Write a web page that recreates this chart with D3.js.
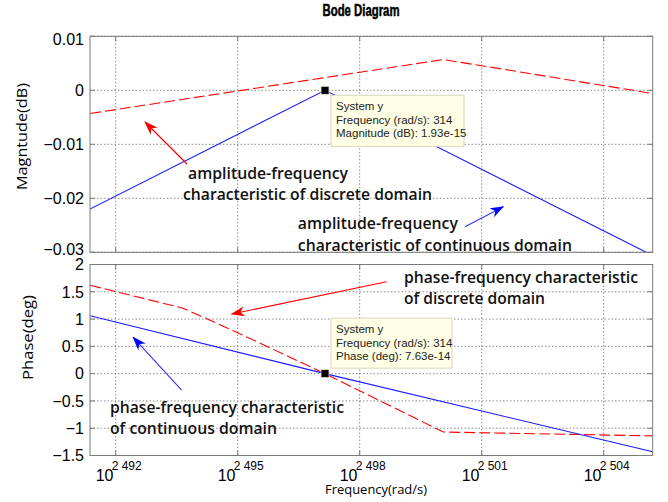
<!DOCTYPE html>
<html lang="en">
<head>
    <meta charset="UTF-8">
    <title>Bode Diagram</title>
    <script src="https://d3js.org/d3.v7.min.js"></script>
    <style>
        body { margin: 0; background: #fff; }
        svg { display: block; }
    </style>
</head>
<body>
    <div id="chart"></div>
    <script>
        // frequency axis is log10(rad/s)
        const xTicks = [2492, 2495, 2498, 2501, 2504];
        const magTicks = [0.01, 0, -0.01, -0.02, -0.03];
        const phaseTicks = [2, 1.5, 1, 0.5, 0, -0.5, -1, -1.5];

        const magContExp = [2491.368, 2497.147, 2505.205];
        const magContDb = [-0.022, 0, -0.0306];
        const magDiscExp = [2491.368, 2500.056, 2505.205];
        const magDiscDb = [-0.0043, 0.0057, -0.0006];

        const phContExp = [2491.368, 2497.147, 2505.205];
        const phContDeg = [1.06, 0, -1.43];
        const phDiscExp = [2491.368, 2493.655, 2495.0, 2497.147, 2500.056, 2505.205];
        const phDiscDeg = [1.62, 1.20, 0.75, 0, -1.07, -1.14];

        const markerExp = 2497.147;
        const magTip = ["System y", "Frequency (rad/s): 314", "Magnitude (dB): 1.93e-15"];
        const phaseTip = ["System y", "Frequency (rad/s): 314", "Phase (deg): 7.63e-14"];

        const width = 668;
        const height = 502;
        const left = 90, right = 652.7;

        const x = d3.scaleLinear().domain([2491.368, 2505.205]).range([left, right]);
        const yMag = d3.scaleLinear().domain([-0.03, 0.01]).range([252.3, 36.3]);
        const yPh = d3.scaleLinear().domain([-1.5, 2]).range([455.5, 264.5]);

        const svg = d3.select("#chart").append("svg")
            .attr("width", width)
            .attr("height", height)
            .attr("viewBox", [0, 0, width, height]);

        const defs = svg.append("defs");
        ["red", "blue"].forEach(c => {
            defs.append("marker")
                .attr("id", "arrow-" + c)
                .attr("markerUnits", "userSpaceOnUse")
                .attr("viewBox", "0 0 14 10")
                .attr("refX", 13).attr("refY", 5)
                .attr("markerWidth", 14).attr("markerHeight", 10)
                .attr("orient", "auto")
                .append("path")
                .attr("d", "M0,0 L14,5 L0,10 L4,5 Z")
                .attr("fill", c === "red" ? "#ff0000" : "#0000ff");
        });

        const expFmt = d3.formatLocale({decimal: ".", thousands: " ", grouping: [3], currency: ["", ""]}).format(",d");

        function panel(y, ticks, id, nudge) {
            const g = svg.append("g");
            const top = y.range()[1], bottom = y.range()[0];

            defs.append("clipPath").attr("id", id)
                .append("rect").attr("x", left).attr("y", top)
                .attr("width", right - left).attr("height", bottom - top);

            g.append("rect")
                .attr("x", left).attr("y", top)
                .attr("width", right - left).attr("height", bottom - top)
                .attr("fill", "#fff");

            // grid
            g.append("g").selectAll("line").data(xTicks).join("line")
                .attr("x1", d => x(d)).attr("x2", d => x(d))
                .attr("y1", top).attr("y2", bottom)
                .attr("stroke", "#8c8c8c").attr("stroke-dasharray", "1.5,2");
            g.append("g").selectAll("line").data(ticks).join("line")
                .attr("x1", left).attr("x2", right)
                .attr("y1", d => y(d)).attr("y2", d => y(d))
                .attr("stroke", "#8c8c8c").attr("stroke-dasharray", "1.5,2");

            // inside ticks
            const tk = g.append("g").attr("stroke", "#777");
            tk.append("g").selectAll("line").data(ticks).join("line")
                .attr("x1", left).attr("x2", left + 5)
                .attr("y1", d => y(d)).attr("y2", d => y(d));
            tk.append("g").selectAll("line").data(ticks).join("line")
                .attr("x1", right - 5).attr("x2", right)
                .attr("y1", d => y(d)).attr("y2", d => y(d));
            tk.append("g").selectAll("line").data(xTicks).join("line")
                .attr("x1", d => x(d)).attr("x2", d => x(d))
                .attr("y1", top).attr("y2", top + 5);
            tk.append("g").selectAll("line").data(xTicks).join("line")
                .attr("x1", d => x(d)).attr("x2", d => x(d))
                .attr("y1", bottom - 5).attr("y2", bottom);

            // y tick labels, end labels pulled slightly inside the box
            const last = ticks.length - 1;
            g.append("g").selectAll("text").data(ticks).join("text")
                .attr("x", 84)
                .attr("y", (d, i) => y(d) + (nudge ? (i === 0 ? 2.5 : i === last ? -3 : 0) : 0))
                .attr("dy", "0.36em")
                .attr("text-anchor", "end")
                .attr("font-family", "Liberation Sans, Arial, sans-serif")
                .attr("font-size", 16)
                .text(d => d3.format("")(d));

            return g;
        }

        const gMag = panel(yMag, magTicks, "clip-mag", true);
        const gPh = panel(yPh, phaseTicks, "clip-ph", false);

        function series(g, y, xs, ys, color, dashed, clip) {
            const pts = xs.map((e, i) => [e, ys[i]]);
            g.append("path")
                .datum(pts)
                .attr("clip-path", "url(#" + clip + ")")
                .attr("fill", "none")
                .attr("stroke", color)
                .attr("stroke-width", 1.1)
                .attr("stroke-dasharray", dashed ? "11,4" : null)
                .attr("d", d3.line().x(d => x(d[0])).y(d => y(d[1])));
        }

        series(gMag, yMag, magDiscExp, magDiscDb, "#ff0000", true, "clip-mag");
        series(gMag, yMag, magContExp, magContDb, "#1a1aff", false, "clip-mag");
        series(gPh, yPh, phDiscExp, phDiscDeg, "#ff0000", true, "clip-ph");
        series(gPh, yPh, phContExp, phContDeg, "#1a1aff", false, "clip-ph");

        // box
        [yMag, yPh].forEach(y => {
            svg.append("rect")
                .attr("x", left).attr("y", y.range()[1])
                .attr("width", right - left).attr("height", y.range()[0] - y.range()[1])
                .attr("fill", "none").attr("stroke", "#7a7a7a");
        });

        // x tick labels
        const xl = svg.append("g").selectAll("text").data(xTicks).join("text")
            .attr("font-family", "Liberation Sans, Arial, sans-serif");
        xl.append("tspan")
            .attr("x", d => x(d) - 20).attr("y", 481)
            .attr("font-size", 16).text("10");
        xl.append("tspan")
            .attr("x", d => x(d) - 4).attr("y", 469.5)
            .attr("font-size", 12).text(d => expFmt(d));

        // annotations: arrows and texts in data coordinates
        const arrows = [
            {y: yMag, from: [2493.753, -0.01365], to: [2492.72, -0.00587], c: "red"},
            {y: yMag, from: [2500.59, -0.02526], to: [2501.53, -0.02156], c: "blue"},
            {y: yPh, from: [2498.66, 1.684], to: [2494.85, 1.092], c: "red"},
            {y: yPh, from: [2493.62, -0.30], to: [2492.43, 0.665], c: "blue"}
        ];
        svg.append("g").selectAll("line").data(arrows).join("line")
            .attr("x1", d => x(d.from[0])).attr("y1", d => d.y(d.from[1]))
            .attr("x2", d => x(d.to[0])).attr("y2", d => d.y(d.to[1]))
            .attr("stroke", d => d.c === "red" ? "#ff0000" : "#3535ff")
            .attr("stroke-width", 1.1)
            .attr("marker-end", d => "url(#arrow-" + d.c + ")");

        const notes = [
            {y: yMag, at: [2493.78, -0.01640], text: "amplitude-frequency", len: 160},
            {y: yMag, at: [2493.655, -0.02040], text: "characteristic of discrete domain", len: 249},
            {y: yMag, at: [2496.48, -0.02560], text: "amplitude-frequency", len: 160},
            {y: yMag, at: [2496.48, -0.02970], text: "characteristic of continuous domain", len: 274},
            {y: yPh, at: [2499.09, 1.655], text: "phase-frequency characteristic", len: 234},
            {y: yPh, at: [2499.09, 1.270], text: "of discrete domain", len: 141},
            {y: yPh, at: [2491.86, -0.730], text: "phase-frequency characteristic", len: 234},
            {y: yPh, at: [2491.86, -1.110], text: "of continuous domain", len: 167}
        ];
        svg.append("g").selectAll("text").data(notes).join("text")
            .attr("x", d => x(d.at[0])).attr("y", d => d.y(d.at[1]))
            .attr("font-family", "Open Sans, Noto Sans, sans-serif")
            .attr("font-weight", 600)
            .attr("font-size", 15.5)
            .attr("fill", "#111")
            .attr("textLength", d => d.len)
            .attr("lengthAdjust", "spacingAndGlyphs")
            .text(d => d.text);

        // data markers and datatips
        function datatip(y, lines, dx, dy, w, h) {
            const mx = x(markerExp), my = y(0);
            svg.append("rect")
                .attr("x", mx - 4).attr("y", my - 4)
                .attr("width", 8).attr("height", 8)
                .attr("fill", "#000").attr("stroke", "#e8e4c0").attr("stroke-width", 0.8);
            const g = svg.append("g").attr("transform", `translate(${mx + dx},${my + dy})`);
            g.append("rect")
                .attr("width", w).attr("height", h)
                .attr("fill", "#ffffe6").attr("stroke", "#d9d6b8");
            g.selectAll("text").data(lines).join("text")
                .attr("x", 5).attr("y", (d, i) => 15 + i * 13.5)
                .attr("font-family", "Liberation Sans, Arial, sans-serif")
                .attr("font-size", 11.5)
                .attr("fill", "#222")
                .text(d => d);
        }
        datatip(yMag, magTip, 6, 5, 133, 51);
        datatip(yPh, phaseTip, 6, -55.5, 121, 50);

        // titles
        svg.append("text")
            .attr("x", 361).attr("y", 16)
            .attr("text-anchor", "middle")
            .attr("font-family", "Liberation Sans Narrow, Liberation Sans, sans-serif")
            .attr("font-weight", "bold").attr("font-size", 16.5)
            .attr("stroke", "#000").attr("stroke-width", 0.5)
            .attr("textLength", 77).attr("lengthAdjust", "spacingAndGlyphs")
            .text("Bode Diagram");

        svg.append("text")
            .attr("transform", "translate(27,136.5) rotate(-90)")
            .attr("text-anchor", "middle")
            .attr("font-family", "Open Sans, sans-serif").attr("font-size", 15)
            .attr("textLength", 107).attr("lengthAdjust", "spacingAndGlyphs")
            .text("Magntude(dB)");

        svg.append("text")
            .attr("transform", "translate(33,337.5) rotate(-90)")
            .attr("text-anchor", "middle")
            .attr("font-family", "Open Sans, sans-serif").attr("font-size", 15)
            .attr("textLength", 85).attr("lengthAdjust", "spacingAndGlyphs")
            .text("Phase(deg)");

        svg.append("text")
            .attr("x", 376).attr("y", 494)
            .attr("text-anchor", "middle")
            .attr("font-family", "Open Sans, sans-serif").attr("font-size", 12.5)
            .attr("textLength", 102).attr("lengthAdjust", "spacingAndGlyphs")
            .text("Frequency(rad/s)");
    </script>
</body>
</html>
